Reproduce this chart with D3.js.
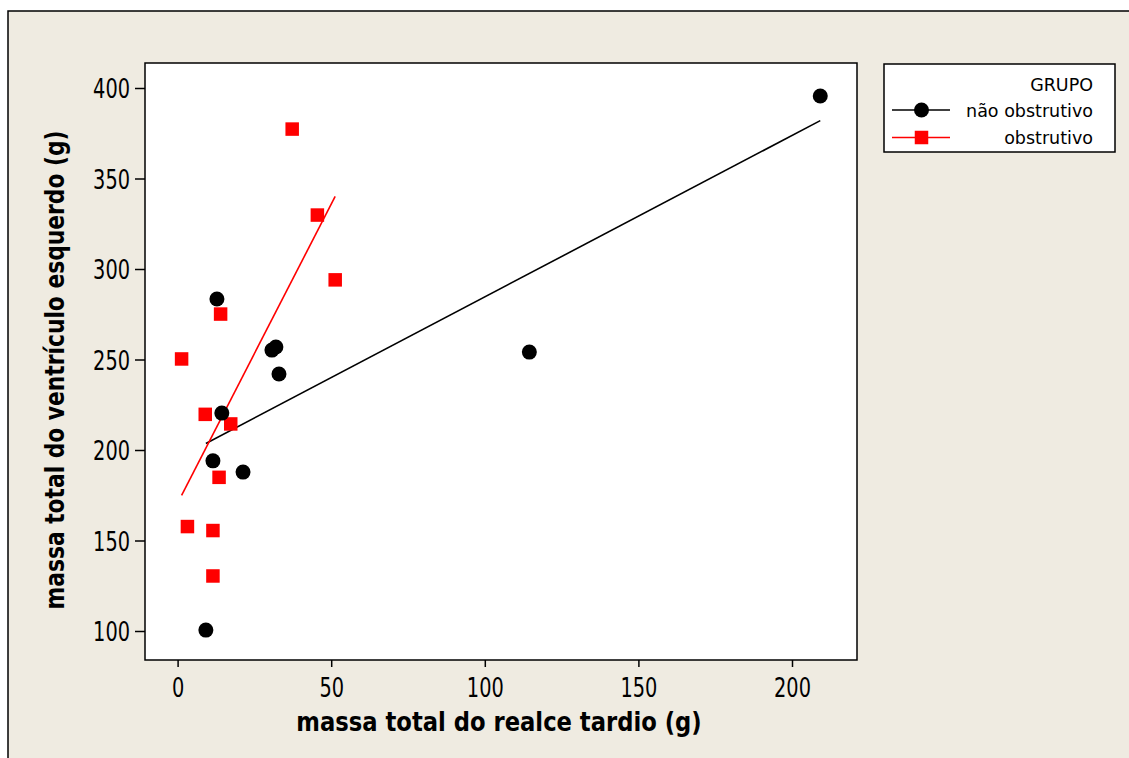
<!DOCTYPE html>
<html><head><meta charset="utf-8">
<script src="https://cdn.jsdelivr.net/npm/d3@7"></script>
<style>body{margin:0;background:#fff}svg{display:block}</style>
</head><body>
<script>
// Data
const naoX = [209.2, 114.5, 12.8, 30.7, 32.0, 33.0, 14.4, 11.5, 21.3, 9.2];
const naoY = [395.6, 254.1, 283.4, 255.2, 256.9, 242.0, 220.4, 194.0, 187.8, 100.5];
const obsX = [37.3, 45.5, 51.3, 14.0, 1.3, 9.0, 17.3, 13.5, 3.2, 11.5, 11.5];
const obsY = [377.3, 329.8, 294.0, 275.1, 250.3, 219.7, 214.4, 184.9, 157.7, 155.5, 130.4];
const xTicks = [0, 50, 100, 150, 200];
const yTicks = [100, 150, 200, 250, 300, 350, 400];
const groups = ["não obstrutivo", "obstrutivo"];
const legendTitle = "GRUPO";
const xTitle = "massa total do realce tardio (g)";
const yTitle = "massa total do ventrículo esquerdo (g)";

const W = 1129, H = 758;
const svg = d3.select("body").append("svg").attr("width", W).attr("height", H);
const FONT = "'DejaVu Sans', Verdana, sans-serif";
const CFONT = "'DejaVu Sans Condensed', 'DejaVu Sans', sans-serif";

// outer frame
svg.append("rect").attr("x", 8).attr("y", 11).attr("width", W).attr("height", H)
  .attr("fill", "#EFEBE1").attr("stroke", "#000").attr("stroke-width", 1.5);

const L = 145, T = 63, R = 857, B = 660;
const x = d3.scaleLinear().domain([0, 200]).range([177.6, 792]);
const y = d3.scaleLinear().domain([100, 400]).range([631, 88]);

svg.append("rect").attr("x", L).attr("y", T).attr("width", R - L).attr("height", B - T)
  .attr("fill", "#fff").attr("stroke", "#000").attr("stroke-width", 1.5);

const K = 1.22; // vertical stretch of the reference text
const xAxis = svg.append("g").attr("transform", `translate(0,${B})`)
  .call(d3.axisBottom(x).tickValues(xTicks).tickSize(7).tickFormat(d3.format("d")));
const yAxis = svg.append("g").attr("transform", `translate(${L},0)`)
  .call(d3.axisLeft(y).tickValues(yTicks).tickSize(10).tickFormat(d3.format("d")));
[xAxis, yAxis].forEach(a => {
  a.select(".domain").remove();
  a.selectAll("line").attr("stroke", "#000").attr("stroke-width", 1.5);
  a.selectAll("text").attr("font-family", CFONT).style("font-stretch", "condensed")
    .attr("font-size", 21.5).attr("fill", "#000");
});
xAxis.selectAll("text").attr("y", 0).attr("dy", 0).attr("transform", `translate(0,37) scale(1,${K})`);
yAxis.selectAll("text").attr("x", 0).attr("y", 0).attr("dy", 0).attr("transform", `translate(-15,9.5) scale(1,${K})`);

svg.append("text").attr("transform", "translate(499,731) scale(1,1.2)").attr("text-anchor", "middle")
  .attr("font-family", FONT).attr("font-weight", "bold").attr("font-size", 22.7).text(xTitle);
svg.append("text").attr("transform", "translate(63.5,370) rotate(-90) scale(1,1.2)").attr("text-anchor", "middle")
  .attr("font-family", FONT).attr("font-weight", "bold").attr("font-size", 21.8).text(yTitle);

function fit(xs, ys) {
  const mx = d3.mean(xs), my = d3.mean(ys);
  const sxy = d3.sum(xs, (v, i) => (v - mx) * (ys[i] - my));
  const sxx = d3.sum(xs, v => (v - mx) * (v - mx));
  const b = sxy / sxx, a = my - b * mx;
  const [x0, x1] = d3.extent(xs);
  return [[x0, a + b * x0], [x1, a + b * x1]];
}
const line = d3.line().x(d => x(d[0])).y(d => y(d[1]));
svg.append("path").attr("d", line(fit(naoX, naoY))).attr("stroke", "#000").attr("stroke-width", 1.6).attr("fill", "none");
svg.append("path").attr("d", line(fit(obsX, obsY))).attr("stroke", "#f00").attr("stroke-width", 1.6).attr("fill", "none");

const S = 13.5;
svg.append("g").selectAll("rect").data(obsX).join("rect")
  .attr("x", (d, i) => x(d) - S / 2).attr("y", (d, i) => y(obsY[i]) - S / 2)
  .attr("width", S).attr("height", S).attr("fill", "#f00");
svg.append("g").selectAll("circle").data(naoX).join("circle")
  .attr("cx", d => x(d)).attr("cy", (d, i) => y(naoY[i])).attr("r", 7.5).attr("fill", "#000");

// legend
const lg = svg.append("g");
lg.append("rect").attr("x", 884).attr("y", 64).attr("width", 231).attr("height", 88)
  .attr("fill", "#fff").attr("stroke", "#000").attr("stroke-width", 1.5);
lg.append("text").attr("x", 1093).attr("y", 90.5).attr("text-anchor", "end")
  .attr("font-family", FONT).attr("font-size", 17.5).text(legendTitle);
const rows = [{c: "#000", shape: "circle", cy: 110, base: 116.5}, {c: "#f00", shape: "square", cy: 137.5, base: 144}];
groups.forEach((g, i) => {
  const r = rows[i];
  lg.append("line").attr("x1", 892).attr("x2", 950).attr("y1", r.cy).attr("y2", r.cy)
    .attr("stroke", r.c).attr("stroke-width", 1.6);
  if (r.shape === "circle") lg.append("circle").attr("cx", 921.5).attr("cy", r.cy).attr("r", 7.5).attr("fill", "#000");
  else lg.append("rect").attr("x", 921.5 - S / 2).attr("y", r.cy - S / 2).attr("width", S).attr("height", S).attr("fill", "#f00");
  lg.append("text").attr("x", 1093).attr("y", r.base).attr("text-anchor", "end")
    .attr("font-family", FONT).attr("font-size", 17.5).text(g);
});
</script>
</body></html>
